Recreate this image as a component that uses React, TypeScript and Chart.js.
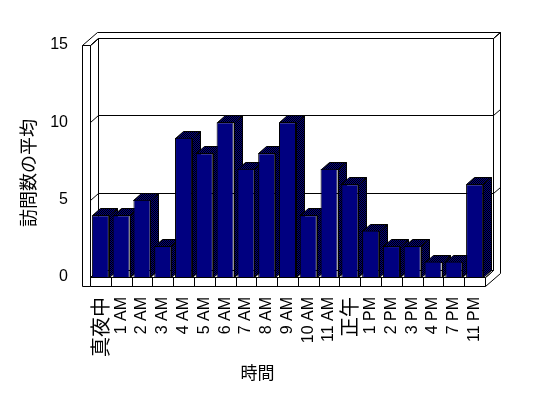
import { useEffect, useRef } from "react";
import { Chart, registerables } from "chart.js";

Chart.register(...registerables);

// ---- data ----
const categories = [
  "真夜中", "1 AM", "2 AM", "3 AM", "4 AM", "5 AM", "6 AM", "7 AM", "8 AM", "9 AM",
  "10 AM", "11 AM", "正午", "1 PM", "2 PM", "3 PM", "4 PM", "7 PM", "11 PM",
];
const visitAverages = [4, 4, 5, 2, 9, 8, 10, 7, 8, 10, 4, 7, 6, 3, 2, 2, 1, 1, 6];
const yTickValues = [0, 5, 10, 15];
const yAxisTitle = "訪問数の平均";
const xAxisTitle = "時間";

// ---- styles ----
const LATIN = "'Liberation Sans', Arial, sans-serif";
const CJK = "'Noto Sans CJK JP', 'Noto Sans CJK SC', sans-serif";
const DX = 8; // depth offset x
const DY = 7; // depth offset y
const TX = 7; // back wall thickness x
const TY = 6; // back wall thickness y
const WALL = 8; // left wall thickness
const FLOOR = 9; // floor thickness

function makePattern(ctx: CanvasRenderingContext2D) {
  const c = document.createElement("canvas");
  c.width = 2;
  c.height = 2;
  const p = c.getContext("2d")!;
  p.fillStyle = "#000000";
  p.fillRect(0, 0, 2, 2);
  p.fillStyle = "#000080";
  p.fillRect(1, 0, 1, 1);
  p.fillRect(0, 1, 1, 1);
  return ctx.createPattern(c, "repeat");
}

type Pt = [number, number];

function poly(ctx: CanvasRenderingContext2D, pts: Pt[], fill?: string | CanvasPattern | null, close = true) {
  ctx.beginPath();
  pts.forEach(([x, y], i) => {
    const px = Math.round(x) + 0.5;
    const py = Math.round(y) + 0.5;
    if (i === 0) ctx.moveTo(px, py);
    else ctx.lineTo(px, py);
  });
  if (close) ctx.closePath();
  if (fill) {
    ctx.fillStyle = fill as any;
    ctx.fill();
  }
  ctx.stroke();
}

const frame3d = {
  id: "frame3d",
  beforeDatasetsDraw(chart: any) {
    const { ctx, chartArea: a, scales } = chart;
    const ys = scales.y;
    const xs = scales.x;
    const L = a.left, R = a.right, T = a.top, B = a.bottom;
    ctx.save();
    ctx.lineWidth = 1;
    ctx.strokeStyle = "#000";

    // back wall inner face
    poly(ctx, [[L + DX, T - DY], [R + DX, T - DY], [R + DX, B - DY], [L + DX, B - DY]], "#fff");
    // back wall top strip + left wall top
    poly(ctx, [
      [L - WALL, T], [L, T], [L + DX, T - DY], [R + DX, T - DY],
      [R + DX + TX, T - DY - TY], [L - WALL + DX + TX, T - DY - TY],
    ], "#fff");
    // right side of back wall + floor
    poly(ctx, [
      [R + DX, T - DY], [R + DX + TX, T - DY - TY], [R + DX + TX, B + FLOOR - DY - TY],
      [R, B + FLOOR], [R, B], [R + DX, B - DY],
    ], "#fff");
    poly(ctx, [[R, B], [R + DX, B - DY]], null, false);

    // gridlines
    yTickValues.forEach((v) => {
      if (v === 0) return;
      const yv = ys.getPixelForValue(v);
      poly(ctx, [[L - WALL, yv], [L, yv], [L + DX, yv - DY], [R + DX, yv - DY], [R + DX + TX, yv - DY - TY]], null, false);
    });

    // floor top face
    poly(ctx, [[L, B], [R, B], [R + DX, B - DY], [L + DX, B - DY]], "#fff");
    // floor front face
    poly(ctx, [[L, B], [R, B], [R, B + FLOOR], [L, B + FLOOR]], "#fff");
    for (let i = 0; i < categories.length - 1; i++) {
      const bx = (xs.getPixelForValue(i) + xs.getPixelForValue(i + 1)) / 2;
      poly(ctx, [[bx, B], [bx, B + FLOOR]], null, false);
    }
    // left wall front face
    poly(ctx, [[L - WALL, T], [L, T], [L, B + FLOOR], [L - WALL, B + FLOOR]], "#fff");
    // left wall inner diagonals
    poly(ctx, [[L, T], [L + DX, T - DY]], null, false);
    poly(ctx, [[L, B], [L + DX, B - DY]], null, false);

    // bar top & side faces
    const pattern = makePattern(ctx);
    const meta = chart.getDatasetMeta(0);
    meta.data.forEach((bar: any) => {
      const { x, y, base, width } = bar.getProps(["x", "y", "base", "width"], true);
      const left = x - width / 2;
      const right = x + width / 2;
      poly(ctx, [[left, y], [right, y], [right + DX, y - DY], [left + DX, y - DY]], pattern);
      poly(ctx, [[right, y], [right + DX, y - DY], [right + DX, base - DY], [right, base]], pattern);
    });
    ctx.restore();
  },
  afterDraw(chart: any) {
    const { ctx, chartArea: a } = chart;
    ctx.save();
    ctx.fillStyle = "#000";
    ctx.textAlign = "center";
    ctx.textBaseline = "middle";
    ctx.font = `18px ${CJK}`;
    ctx.translate(28, (a.top + a.bottom) / 2 + 12);
    ctx.rotate(-Math.PI / 2);
    ctx.fillText(yAxisTitle, 0, 0);
    ctx.restore();
    ctx.save();
    ctx.fillStyle = "#000";
    ctx.textAlign = "center";
    ctx.textBaseline = "middle";
    ctx.font = `17px ${CJK}`;
    ctx.fillText(xAxisTitle, (a.left + a.right) / 2 - 30, 373);
    ctx.restore();
  },
};

export default function App() {
  const ref = useRef<HTMLCanvasElement>(null);
  useEffect(() => {
    const chart = new Chart(ref.current!, {
      type: "bar",
      data: {
        labels: categories,
        datasets: [
          {
            data: visitAverages,
            backgroundColor: "#000080",
            borderColor: "#000000",
            borderWidth: 1,
            barPercentage: 0.82,
            categoryPercentage: 1,
          },
        ],
      },
      options: {
        responsive: false,
        animation: false,
        devicePixelRatio: 1,
        layout: { padding: { top: 45, right: 63, left: 0, bottom: 0 } },
        plugins: { legend: { display: false }, tooltip: { enabled: false } },
        scales: {
          x: {
            grid: { display: false, drawTicks: false },
            border: { display: false },
            ticks: {
              autoSkip: false,
              minRotation: 90,
              maxRotation: 90,
              padding: 20,
              color: "#000",
              font: (c: any) =>
                /[^\x00-\x7F]/.test(categories[c.index] ?? "")
                  ? { family: CJK, size: 20 }
                  : { family: LATIN, size: 16 },
            },
            afterFit: (s: any) => {
              s.height = 121;
            },
          },
          y: {
            min: 0,
            max: 15,
            grid: { display: false, drawTicks: false },
            border: { display: false },
            afterBuildTicks: (s: any) => {
              s.ticks = yTickValues.map((v) => ({ value: v }));
            },
            ticks: { padding: 22, color: "#000", font: { family: LATIN, size: 16 } },
            afterFit: (s: any) => {
              s.width = 90;
            },
          },
        },
      },
      plugins: [frame3d],
    });
    return () => chart.destroy();
  }, []);
  return (
    <div style={{ position: "fixed", left: 0, top: 0, width: 548, height: 398, background: "#fff" }}>
      <canvas ref={ref} width={548} height={398} style={{ display: "block", width: 548, height: 398 }} />
    </div>
  );
}
